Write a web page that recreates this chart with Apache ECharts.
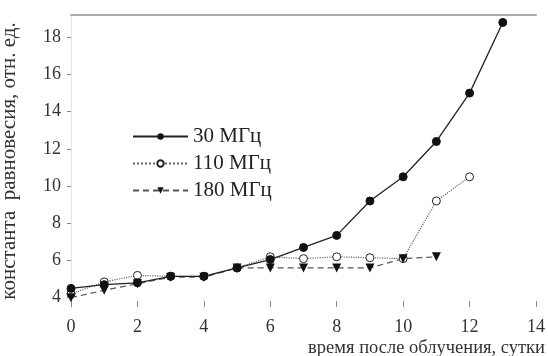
<!DOCTYPE html>
<html>
<head>
<meta charset="utf-8">
<script src="https://cdn.jsdelivr.net/npm/echarts@6/dist/echarts.min.js"></script>
<style>
  html, body { margin: 0; padding: 0; background: #fff; }
  #chart { width: 548px; height: 356px; }
</style>
</head>
<body>
<div id="chart"></div>
<script>
// days after irradiation
var days30 = [0, 1, 2, 3, 4, 5, 6, 7, 8, 9, 10, 11, 12, 13];
var vals30 = [4.5, 4.7, 4.8, 5.15, 5.15, 5.6, 6.05, 6.7, 7.35, 9.2, 10.5, 12.4, 15.0, 18.8];
var days110 = [0, 1, 2, 3, 4, 5, 6, 7, 8, 9, 10, 11, 12];
var vals110 = [4.2, 4.85, 5.2, 5.15, 5.15, 5.6, 6.2, 6.1, 6.2, 6.15, 6.1, 9.2, 10.5];
var days180 = [0, 1, 2, 3, 4, 5, 6, 7, 8, 9, 10, 11];
var vals180 = [4.0, 4.4, 4.75, 5.1, 5.1, 5.6, 5.6, 5.6, 5.6, 5.6, 6.1, 6.2];
var yTicks = [4, 6, 8, 10, 12, 14, 16, 18];

function pairs(xs, ys) {
  return xs.map(function (x, i) { return [x, ys[i]]; });
}

var chart = echarts.init(document.getElementById('chart'));
var font = '"Liberation Serif", "DejaVu Serif", serif';

var option = {
  animation: false,
  textStyle: { fontFamily: font },
  grid: { left: 71, right: 12, top: 15, bottom: 49, outerBoundsMode: 'none', containLabel: false },
  legend: {
    orient: 'vertical',
    left: 127,
    top: 121,
    itemWidth: 55,
    itemHeight: 8,
    itemGap: 6,
    textStyle: { fontFamily: font, fontSize: 21, color: '#222' },
    data: ['30 МГц', '110 МГц', '180 МГц']
  },
  xAxis: [{
    type: 'value',
    min: 0,
    max: 14,
    interval: 2,
    name: 'время после облучения, сутки',
    nameLocation: 'end',
    nameGap: 9,
    nameTextStyle: { fontFamily: font, fontSize: 18.5, color: '#333', align: 'right', verticalAlign: 'top', padding: [32, 0, 0, 0] },
    axisLine: { show: false },
    axisTick: { show: true, inside: true, length: 6, lineStyle: { color: '#888' } },
    axisLabel: { fontFamily: font, fontSize: 18, color: '#333', margin: 11 },
    splitLine: { show: false }
  }, {
    type: 'value',
    position: 'top',
    min: 0,
    max: 14,
    axisLine: { show: true, lineStyle: { color: '#aaa', width: 2 } },
    axisTick: { show: false },
    axisLabel: { show: false },
    splitLine: { show: false }
  }],
  yAxis: {
    type: 'value',
    min: 3.5,
    max: 19.2,
    name: 'константа  равновесия, отн. ед.',
    nameLocation: 'middle',
    nameGap: 51,
    nameTextStyle: { fontFamily: font, fontSize: 21, color: '#333' },
    axisLine: { show: true, lineStyle: { color: '#e4e4e4' } },
    axisTick: { show: true, length: 4, customValues: yTicks, lineStyle: { color: '#888' } },
    axisLabel: { fontFamily: font, fontSize: 18, color: '#333', margin: 10, customValues: yTicks },
    splitLine: { show: false }
  },
  series: [{
    name: '30 МГц',
    type: 'line',
    data: pairs(days30, vals30),
    symbol: 'circle',
    symbolSize: 8,
    itemStyle: { color: '#111', borderColor: '#111' },
    lineStyle: { color: '#222', width: 1.3, type: 'solid' },
    z: 3
  }, {
    name: '110 МГц',
    type: 'line',
    data: pairs(days110, vals110),
    symbol: 'circle',
    symbolSize: 8,
    itemStyle: { color: '#fff', borderColor: '#222', borderWidth: 1 },
    lineStyle: { color: '#666', width: 1.2, type: 'dotted' },
    z: 2
  }, {
    name: '180 МГц',
    type: 'line',
    data: pairs(days180, vals180),
    symbol: 'triangle',
    symbolRotate: 180,
    symbolSize: 9,
    itemStyle: { color: '#111' },
    lineStyle: { color: '#555', width: 1.2, type: [6, 4] },
    z: 2
  }]
};

chart.setOption(option);
</script>
</body>
</html>
